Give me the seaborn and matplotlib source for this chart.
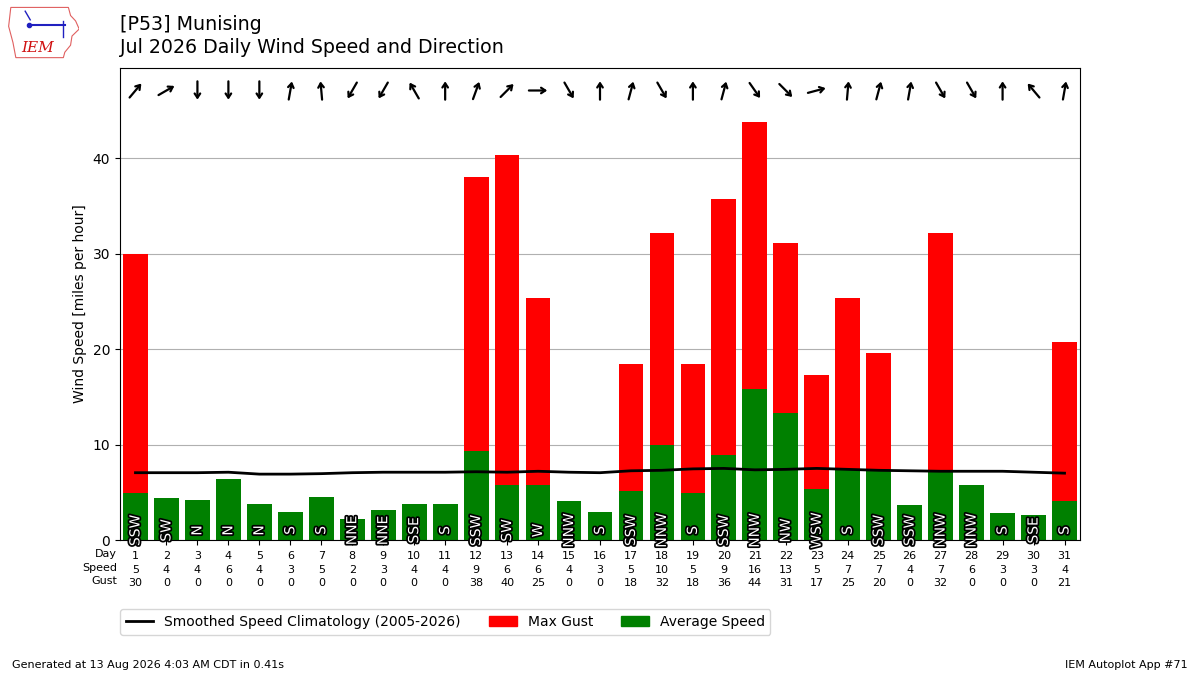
import numpy as np
import pandas as pd
import seaborn as sns
import matplotlib
matplotlib.use("Agg")
import matplotlib.pyplot as plt
import matplotlib.patheffects as pe
from matplotlib.patches import Patch, Polygon
from matplotlib.lines import Line2D
from matplotlib.transforms import offset_copy

days = list(range(1, 32))
avg_speed = [4.9, 4.4, 4.2, 6.4, 3.8, 2.9, 4.5, 2.2, 3.1, 3.8, 3.8, 9.3, 5.8, 5.8, 4.1, 2.9,
             5.1, 10.0, 4.9, 8.9, 15.8, 13.3, 5.3, 7.4, 7.4, 3.7, 7.3, 5.8, 2.8, 2.6, 4.1]
max_gust = [30.0, 0, 0, 0, 0, 0, 0, 0, 0, 0, 0, 38.0, 40.3, 25.3, 0, 0,
            18.4, 32.2, 18.4, 35.7, 43.8, 31.1, 17.3, 25.3, 19.6, 0, 32.2, 0, 0, 0, 20.7]
speed_lbl = [5, 4, 4, 6, 4, 3, 5, 2, 3, 4, 4, 9, 6, 6, 4, 3, 5, 10, 5, 9, 16, 13, 5, 7, 7, 4, 7, 6, 3, 3, 4]
gust_lbl = [30, 0, 0, 0, 0, 0, 0, 0, 0, 0, 0, 38, 40, 25, 0, 0, 18, 32, 18, 36, 44, 31, 17, 25, 20, 0, 32, 0, 0, 0, 21]
dir_text = ["SSW", "SW", "N", "N", "N", "S", "S", "NNE", "NNE", "SSE", "S", "SSW", "SW", "W", "NNW", "S",
            "SSW", "NNW", "S", "SSW", "NNW", "NW", "WSW", "S", "SSW", "SSW", "NNW", "NNW", "S", "SSE", "S"]
# wind direction (from, degrees) used for the arrows
dir_deg = [220, 240, 0, 0, 0, 190, 175, 30, 30, 150, 180, 200, 225, 270, 330, 180,
           195, 330, 180, 195, 325, 315, 255, 185, 195, 190, 330, 330, 180, 140, 190]
clim = [7.05, 7.05, 7.05, 7.1, 6.9, 6.9, 6.95, 7.05, 7.1, 7.1, 7.1, 7.15, 7.1, 7.2, 7.1, 7.05,
        7.25, 7.3, 7.45, 7.5, 7.35, 7.4, 7.5, 7.4, 7.3, 7.25, 7.2, 7.2, 7.2, 7.1, 7.0]

df = pd.DataFrame({"day": days, "speed": avg_speed, "gust": max_gust})

fig = plt.figure(figsize=(12, 6.75), dpi=100)
ax = fig.add_axes([0.1, 0.2, 0.8, 0.7])

sns.barplot(data=df, x="day", y="gust", color="red", saturation=1, width=0.8, ax=ax, zorder=2)
sns.barplot(data=df, x="day", y="speed", color="green", saturation=1, width=0.8, ax=ax, zorder=2)
sns.lineplot(x=np.arange(len(days)), y=clim, color="k", lw=2, ax=ax, zorder=3)

ymax = max(max_gust)
ax.set_ylim(0, ymax * 1.13)
ax.set_xlim(-0.5, len(days) - 0.5)
ax.grid(axis="y", color="#b0b0b0")
ax.set_axisbelow(True)
ax.set_ylabel("Wind Speed [miles per hour]")
ax.set_xlabel("")

ax.set_xticks(np.arange(len(days)))
ax.set_xticklabels([f"{d}\n{s}\n{g}" for d, s, g in zip(days, speed_lbl, gust_lbl)],
                   fontsize=8, linespacing=1.45)
ax.tick_params(axis="x", pad=4.5)
ax.text(-0.003, -0.019, "Day\nSpeed\nGust", transform=ax.transAxes, ha="right", va="top",
        fontsize=8, linespacing=1.45)

L = 6.6
for i, (t, d) in enumerate(zip(dir_text, dir_deg)):
    ax.text(i, 1, t, rotation=90, ha="center", va="center", color="white", fontsize=10,
            zorder=5, path_effects=[pe.withStroke(linewidth=2.5, foreground="k")])
    th = np.radians(d + 180)
    dx, dy = np.sin(th) * L, np.cos(th) * L
    head = offset_copy(ax.transData, fig=fig, x=dx, y=dy, units="points")
    tail = offset_copy(ax.transData, fig=fig, x=-dx, y=-dy, units="points")
    ax.annotate("", xy=(i, ymax * 1.075), xycoords=head, xytext=(i, ymax * 1.075), textcoords=tail,
                arrowprops=dict(arrowstyle="->,head_length=0.3,head_width=0.2", lw=1.6,
                                color="k", shrinkA=0, shrinkB=0))

handles = [Line2D([], [], color="k", lw=2), Patch(color="red"), Patch(color="green")]
labels = ["Smoothed Speed Climatology (2005-2026)", "Max Gust", "Average Speed"]
ax.legend(handles, labels, ncol=3, loc="upper left", bbox_to_anchor=(0, -0.147),
          borderaxespad=0, fontsize=10)

fig.text(0.1, 0.947, "[P53] Munising\nJul 2026 Daily Wind Speed and Direction",
         fontsize=13.7, ha="left", va="center", linespacing=1.3)

# rough stand-in for the IEM logo
lax = fig.add_axes([0.006, 0.913, 0.06, 0.08])
lax.set_xlim(0, 1)
lax.set_ylim(0, 1)
lax.axis("off")
iowa = [(0.05, 0.95), (0.85, 0.95), (0.88, 0.8), (0.95, 0.7), (1.0, 0.55), (0.9, 0.42),
        (0.88, 0.25), (0.8, 0.12), (0.78, 0.02), (0.12, 0.02), (0.08, 0.3), (0.02, 0.6)]
lax.add_patch(Polygon(iowa, closed=True, fill=False, edgecolor="#e06060", lw=0.8))
lax.plot([0.3, 0.8], [0.62, 0.62], color="#2020c0", lw=1.5)
lax.plot([0.3], [0.62], "o", color="#2020c0", ms=3)
lax.plot([0.25, 0.32], [0.88, 0.72], color="#2020c0", lw=1)
lax.plot([0.78, 0.78], [0.7, 0.4], color="#2020c0", lw=1)
lax.text(0.42, 0.2, "IEM", color="#d01010", fontsize=11, family="DejaVu Serif",
         style="italic", ha="center", va="center")

fig.text(0.01, 0.01, "Generated at 13 Aug 2026 4:03 AM CDT in 0.41s", fontsize=8)
fig.text(0.99, 0.01, "IEM Autoplot App #71", fontsize=8, ha="right")

fig.savefig("out.png", dpi=100)
